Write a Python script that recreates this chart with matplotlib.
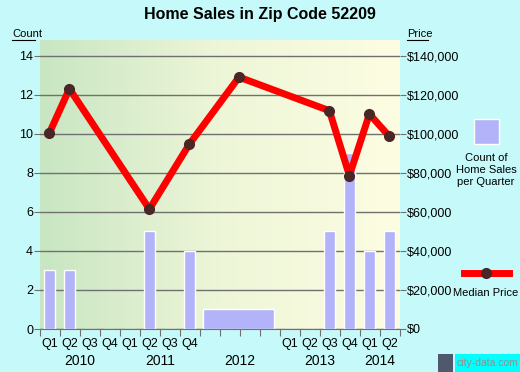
import numpy as np
import matplotlib.pyplot as plt
from matplotlib.patches import Rectangle
from matplotlib.colors import LinearSegmentedColormap
from matplotlib.ticker import FuncFormatter

plt.rcParams['font.family'] = ['Liberation Sans', 'DejaVu Sans']

# quarterly home sales (2012 only reported as one yearly bar)
years = [2010, 2011, 2012, 2013, 2014]
quarter_names = ['Q1', 'Q2', 'Q3', 'Q4']
sales_quarters = ['2010 Q1', '2010 Q2', '2010 Q3', '2010 Q4',
                  '2011 Q1', '2011 Q2', '2011 Q3', '2011 Q4',
                  '2013 Q1', '2013 Q2', '2013 Q3', '2013 Q4',
                  '2014 Q1', '2014 Q2']
sales_count = [3, 3, 0, 0, 0, 5, 0, 4, 0, 0, 5, 9, 4, 5]
sales_2012 = 1

# median price
price_periods = ['2010 Q1', '2010 Q2', '2011 Q2', '2011 Q4', '2012',
                 '2013 Q3', '2013 Q4', '2014 Q1', '2014 Q2']
median_price = [100400, 123000, 61400, 94700, 129000,
                111800, 78500, 110100, 98600]


def period_x(p):
    if ' ' not in p:
        return (int(p) - 2010) * 4 + 1.95
    y, q = p.split()
    return (int(y) - 2010) * 4 + int(q[1]) - 1 + 0.47


bg = '#c6fafa'
fig = plt.figure(figsize=(5.2, 3.72), dpi=100, facecolor=bg)
ax = fig.add_axes([40 / 520, 43 / 372, 360 / 520, 289 / 372])
ymax = 14.8
ax.set_xlim(0, 18)
ax.set_ylim(0, ymax)

# gradient background
grad = np.linspace(0, 1, 256).reshape(1, -1)
cmap = LinearSegmentedColormap.from_list('bg', ['#c8e6c2', '#eef6d8', '#fdfde2'])
ax.imshow(grad, extent=[0, 18, 0, ymax], aspect='auto', cmap=cmap, zorder=0)

for v in range(0, 15, 2):
    ax.axhline(v, color='#707070', lw=1, zorder=1)

xs = [period_x(p) for p in sales_quarters]
ax.bar(xs, sales_count, width=0.55, color='#b3b3fa', edgecolor='white',
       linewidth=1, zorder=2)
ax.bar(8.15, sales_2012, width=3.55, align='edge', color='#b3b3fa',
       edgecolor='white', linewidth=1, zorder=2)

ax2 = ax.twinx()
ax2.set_ylim(0, ymax * 10000)
px = [period_x(p) for p in price_periods]
ax2.plot(px, median_price, color='#ff0000', lw=5, zorder=3)
ax2.plot(px, median_price, 'o', color='#4a2626', ms=7, zorder=4)

for a in (ax, ax2):
    for s in a.spines.values():
        s.set_visible(False)
ax.spines['bottom'].set_visible(True)
ax.spines['bottom'].set_color('#707070')

ax.set_yticks(range(0, 15, 2))
ax.tick_params(axis='y', length=4, color='#707070', labelsize=9, pad=1)
ax2.set_yticks(range(0, 140001, 20000))
ax2.yaxis.set_major_formatter(FuncFormatter(lambda v, _: '${:,.0f}'.format(v)))
ax2.tick_params(axis='y', length=4, color='#707070', labelsize=9, pad=1)

# x ticks at quarter boundaries, labels below
ax.set_xticks(range(0, 19))
ax.set_xticklabels([])
ax.tick_params(axis='x', length=5, color='#707070')
for yi, yr in enumerate(years):
    nq = 2 if yr == 2014 else 4
    if yr != 2012:
        for qi in range(nq):
            ax.text(yi * 4 + qi + 0.5, -0.45, quarter_names[qi], ha='center',
                    va='top', fontsize=9)
    ax.text(yi * 4 + nq / 2, -1.3, str(yr), ha='center', va='top',
            fontsize=10)

fig.text(0.5, 0.96, 'Home Sales in Zip Code 52209', ha='center', va='center',
         fontsize=11.5, fontweight='bold')
fig.text(12 / 520, 1 - 34 / 372, 'Count', fontsize=8, va='center')
fig.add_artist(plt.Line2D([12 / 520, 35 / 520], [1 - 40 / 372] * 2, color='k', lw=0.8))
fig.text(407 / 520, 1 - 34 / 372, 'Price', fontsize=8, va='center')
fig.add_artist(plt.Line2D([407 / 520, 428 / 520], [1 - 40 / 372] * 2, color='k', lw=0.8))

# legend
fig.add_artist(Rectangle((474 / 520, 1 - 144 / 372), 25 / 520, 25 / 372,
                         facecolor='#b3b3fa', edgecolor='white', lw=1,
                         transform=fig.transFigure))
fig.text(486 / 520, 1 - 170 / 372, 'Count of\nHome Sales\nper Quarter',
         ha='center', va='center', fontsize=8, linespacing=1.3)
fig.add_artist(plt.Line2D([464 / 520, 509 / 520], [1 - 273 / 372] * 2,
                          color='#ff0000', lw=5))
fig.add_artist(plt.Line2D([486 / 520], [1 - 273 / 372], marker='o',
                          color='#4a2626', ms=7))
fig.text(486 / 520, 1 - 293 / 372, 'Median Price', ha='center', va='center',
         fontsize=8)

# watermark
fig.add_artist(Rectangle((438 / 520, 0), 15 / 520, 18 / 372,
                         facecolor='#505870', transform=fig.transFigure))
fig.add_artist(Rectangle((455 / 520, 0), 65 / 520, 18 / 372,
                         facecolor='#00ffff', transform=fig.transFigure))
fig.text(487 / 520, 9 / 372, 'city-data.com', ha='center', va='center',
         fontsize=7.5, color='#909090')

fig.savefig('out.png', dpi=100, facecolor=bg)
